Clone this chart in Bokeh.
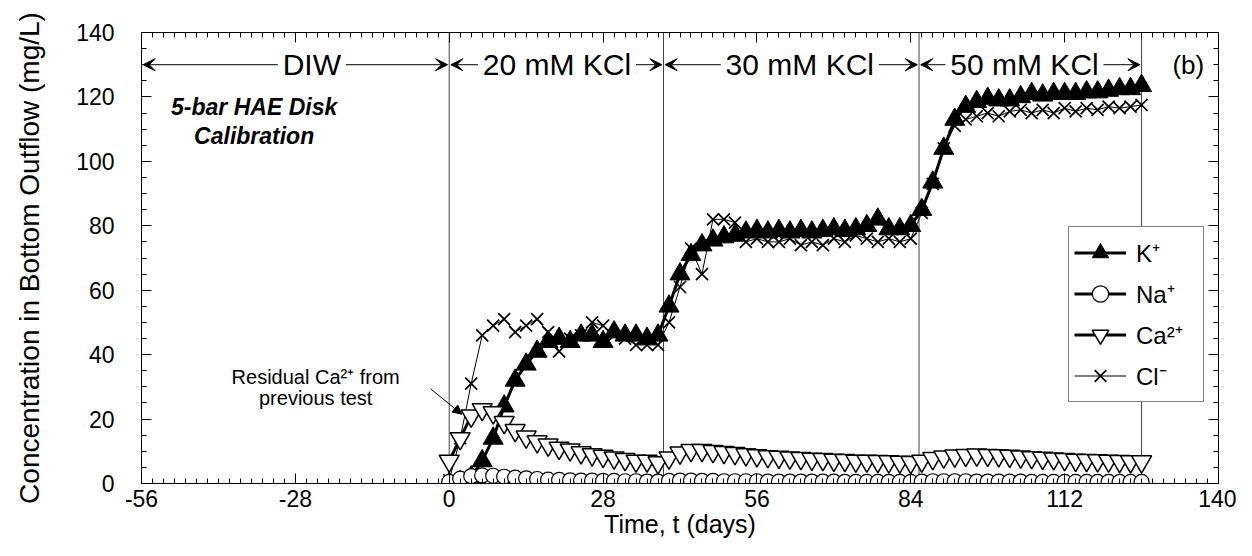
from bokeh.plotting import figure
from bokeh.models import (Range1d, LinearAxis, FixedTicker, Arrow, VeeHead, NormalHead,
                          Legend, LegendItem, Label, ColumnDataSource, CustomLabelingPolicy)
from bokeh.embed import file_html
from bokeh.resources import INLINE

# ---------------- data ----------------
days = [0, 2, 4, 6, 8, 10, 12, 14, 16, 18, 20, 22, 24, 26, 28, 30, 32, 34, 36, 38,
        40, 42, 44, 46, 48, 50, 52, 54, 56, 58, 60, 62, 64, 66, 68, 70, 72, 74, 76, 78, 80, 82, 84,
        86, 88, 90, 92, 94, 96, 98, 100, 102, 104, 106, 108, 110, 112, 114, 116, 118, 120, 122, 124, 126]

k_plus = [0, 0.5, 2, 7, 14, 24, 32, 37, 41, 44, 45, 44, 46, 46, 44, 47, 46, 46, 45, 46,
          55, 65, 71, 74, 75.5, 76.5, 77, 78, 78.5, 78, 78.5, 78, 78.5, 78, 78.5, 79, 78.5, 79, 80, 82, 79, 79, 80,
          85, 93.5, 104, 113, 117, 118.5, 119.5, 119, 119, 120, 121, 120.5, 121, 121, 121, 121.5, 121.5, 122, 122.5, 122.5, 123.5]

na_plus = [0.5, 1.5, 2.3, 2.5, 2.4, 2.1, 1.8, 1.6, 1.4, 1.2, 1.1, 1.0, 0.9, 0.9, 0.8, 0.8, 0.7, 0.7, 0.6, 0.6,
           0.8, 0.9, 0.9, 0.8, 0.8, 0.7, 0.7, 0.7, 0.7, 0.6, 0.6, 0.6, 0.6, 0.6, 0.6, 0.6, 0.5, 0.5, 0.5, 0.5, 0.5, 0.5, 0.5,
           0.6, 0.7, 0.7, 0.7, 0.7, 0.6, 0.6, 0.6, 0.6, 0.6, 0.5, 0.5, 0.5, 0.5, 0.5, 0.5, 0.5, 0.5, 0.5, 0.5, 0.5]

ca_2plus = [7, 14, 21, 23, 22, 19, 16.5, 14.5, 13, 12, 11, 10.5, 9.6, 9, 8.5, 8, 7.5, 7, 7, 6.5,
            8, 9.5, 10.3, 10.3, 10, 9.7, 9.4, 9, 8.7, 8.4, 8.2, 8, 7.8, 7.6, 7.5, 7.3, 7.2, 7, 7, 6.9, 6.8, 6.7, 6.6,
            7, 7.8, 8.3, 8.6, 8.8, 8.9, 8.8, 8.7, 8.5, 8.3, 8.1, 7.9, 7.7, 7.5, 7.3, 7.2, 7.1, 7, 6.9, 6.8, 6.8]

cl_minus = [1, 14, 31, 46, 49, 51, 47, 49, 51, 47, 41, 45, 46, 50, 49, 46, 45, 43, 43, 43,
            50, 61, 73, 65, 82, 82, 81, 75, 76, 75, 75, 76, 74, 75, 74, 76, 75, 77, 76, 75, 76, 75, 76,
            84, 93, 104, 111, 113, 114, 115, 114, 115.5, 116, 115, 116, 115, 116.5, 115.5, 116.5, 116, 117, 116.5, 117, 117.5]

phase_names = ["DIW", "20 mM KCl", "30 mM KCl", "50 mM KCl"]
phase_bounds = [-56, 0, 39, 85.5, 126]

x_ticks = [-56, -28, 0, 28, 56, 84, 112, 140]
y_ticks = [0, 20, 40, 60, 80, 100, 120, 140]

series_labels = ["K\u207a", "Na\u207a", "Ca\u00b2\u207a", "Cl\u207b"]

# ---------------- layout constants ----------------
FONT = "Liberation Sans"
X0, X1 = -56, 140
Y0, Y1 = 0, 140
FRAME_W = 1077
PX_PER_DAY = FRAME_W / (X1 - X0)

p = figure(width=1236, height=540, x_range=Range1d(X0, X1), y_range=Range1d(Y0, Y1),
           output_backend="svg", toolbar_location=None,
           min_border_left=141, min_border_right=18, min_border_top=32, min_border_bottom=56,
           background_fill_color="white", border_fill_color="white")
p.xgrid.grid_line_color = None
p.ygrid.grid_line_color = None
p.outline_line_color = "black"
p.outline_line_width = 1

x_minor = list(range(X0, X1 + 1, 2))
y_minor = list(range(Y0, Y1 + 1, 5))

def style_axis(ax, show_labels=True):
    ax.major_tick_in = 10
    ax.major_tick_out = 0
    ax.minor_tick_in = 5
    ax.minor_tick_out = 0
    ax.axis_line_color = "black"
    ax.major_tick_line_color = "black"
    ax.minor_tick_line_color = "black"
    ax.major_label_text_font = FONT
    ax.major_label_text_color = "black"
    ax.axis_label_text_font = FONT
    ax.axis_label_text_font_style = "normal"
    ax.axis_label_text_color = "black"
    if show_labels:
        ax.major_label_text_font_size = "23px"
    else:
        ax.major_label_text_font_size = "1px"
        ax.major_label_standoff = 0
        ax.major_label_policy = CustomLabelingPolicy(code="return []")

xa = p.xaxis[0]
xa.ticker = FixedTicker(ticks=x_ticks, minor_ticks=x_minor)
style_axis(xa)
xa.major_label_overrides = {t: str(t) for t in x_ticks}
xa.axis_label = "Time, t (days)"
xa.axis_label_text_font_size = "25px"
xa.major_label_standoff = 6
xa.axis_label_standoff = 0

ya = p.yaxis[0]
ya.ticker = FixedTicker(ticks=y_ticks, minor_ticks=y_minor)
style_axis(ya)
ya.axis_label = "Concentration in Bottom Outflow (mg/L)"
ya.axis_label_text_font_size = "28px"
ya.major_label_standoff = 27
ya.axis_label_standoff = 28

top_ax = LinearAxis(ticker=FixedTicker(ticks=x_ticks, minor_ticks=x_minor))
style_axis(top_ax, show_labels=False)
p.add_layout(top_ax, "above")
right_ax = LinearAxis(ticker=FixedTicker(ticks=y_ticks, minor_ticks=y_minor))
style_axis(right_ax, show_labels=False)
p.add_layout(right_ax, "right")

# phase boundary lines
p.segment(x0=phase_bounds[1:], y0=[Y0] * 4, x1=phase_bounds[1:], y1=[Y1] * 4,
          line_color="#444444", line_width=1)

src = ColumnDataSource(dict(t=days, k=k_plus, na=na_plus, ca=ca_2plus, cl=cl_minus))

l_cl = p.line("t", "cl", source=src, line_color="black", line_width=1)
s_cl = p.scatter("t", "cl", source=src, marker="x", size=17, line_color="black", line_width=1.7)
l_k = p.line("t", "k", source=src, line_color="black", line_width=3)
s_k = p.scatter("t", "k", source=src, marker="triangle", size=20, fill_color="black",
                line_color="black", line_width=1)
l_ca = p.line("t", "ca", source=src, line_color="black", line_width=3)
s_ca = p.scatter("t", "ca", source=src, marker="inverted_triangle", size=20, fill_color="white",
                 line_color="black", line_width=1.5)
l_na = p.line("t", "na", source=src, line_color="black", line_width=3)
s_na = p.scatter("t", "na", source=src, marker="circle", size=15, fill_color="white",
                 line_color="black", line_width=1.2)

# phase labels with double arrows
label_centers = [-25, 19.6, 63.8, 104.7]
label_widths_px = [58, 148, 148, 148]
ARROW_Y = 130
for name, c, w, a, b in zip(phase_names, label_centers, label_widths_px, phase_bounds[:-1], phase_bounds[1:]):
    half = (w / 2 + 5) / PX_PER_DAY
    p.add_layout(Label(x=c, y=ARROW_Y, text=name, text_align="center", text_baseline="middle",
                       text_font=FONT, text_font_size="30px", text_color="black"))
    p.add_layout(Arrow(end=VeeHead(size=12, fill_color="black", line_color="black", line_width=1),
                       x_start=c - half, y_start=ARROW_Y, x_end=a + 0.3, y_end=ARROW_Y,
                       line_color="black", line_width=1))
    p.add_layout(Arrow(end=VeeHead(size=12, fill_color="black", line_color="black", line_width=1),
                       x_start=c + half, y_start=ARROW_Y, x_end=b - 0.3, y_end=ARROW_Y,
                       line_color="black", line_width=1))

p.add_layout(Label(x=134.5, y=130, text="(b)", text_align="center", text_baseline="middle",
                   text_font=FONT, text_font_size="26px", text_color="black"))

p.add_layout(Label(x=-35.5, y=116.8, text="5-bar HAE Disk", text_align="center", text_baseline="middle",
                   text_font=FONT, text_font_size="23px", text_font_style="bold italic",
                   text_color="black"))
p.add_layout(Label(x=-35.5, y=107.8, text="Calibration", text_align="center", text_baseline="middle",
                   text_font=FONT, text_font_size="23px", text_font_style="bold italic",
                   text_color="black"))

p.add_layout(Label(x=-24.3, y=33, text="Residual Ca\u00b2\u207a from", text_align="center",
                   text_baseline="middle", text_font=FONT, text_font_size="20px",
                   text_color="black"))
p.add_layout(Label(x=-24.3, y=26.6, text="previous test", text_align="center",
                   text_baseline="middle", text_font=FONT, text_font_size="20px",
                   text_color="black"))
p.add_layout(Arrow(end=NormalHead(size=9, fill_color="black", line_color="black"),
                   x_start=-3.4, y_start=29.4, x_end=2.3, y_end=21.5,
                   line_color="black", line_width=1))

legend = Legend(items=[LegendItem(label=series_labels[0], renderers=[l_k, s_k]),
                       LegendItem(label=series_labels[1], renderers=[l_na, s_na]),
                       LegendItem(label=series_labels[2], renderers=[l_ca, s_ca]),
                       LegendItem(label=series_labels[3], renderers=[l_cl, s_cl])],
                location=(927, 81), orientation="vertical",
                glyph_width=52, glyph_height=41, label_height=41, label_width=62,
                label_standoff=10, spacing=0, padding=5, margin=0,
                border_line_color="black", border_line_width=1,
                background_fill_color="white", background_fill_alpha=1.0,
                label_text_font=FONT, label_text_font_size="24px", label_text_color="black")
p.add_layout(legend, "center")

open("out.html", "w").write(file_html(p, INLINE))
